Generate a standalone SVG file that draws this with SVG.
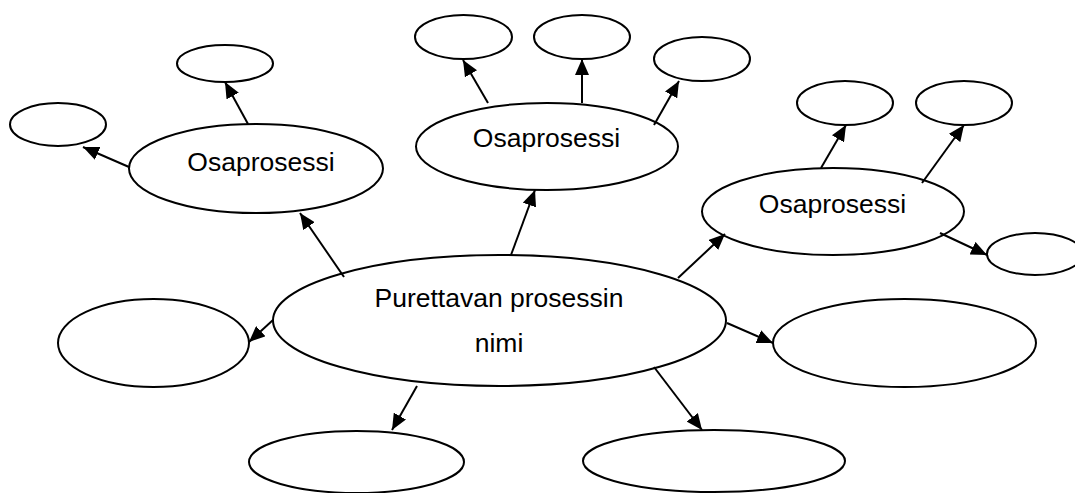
<svg xmlns="http://www.w3.org/2000/svg" width="1075" height="493" viewBox="0 0 1075 493">
  <style>
    .node ellipse { fill: #ffffff; stroke: #000000; stroke-width: 2; }
    .label { font-family: "Liberation Sans", Arial, sans-serif; font-size: 26.5px; fill: #000000; text-anchor: middle; }
    .edge { stroke: #000000; stroke-width: 2; fill: none; marker-end: url(#arrow); }
  </style>
  <defs>
    <marker id="arrow" viewBox="0 0 16 14" refX="16" refY="7" markerWidth="16" markerHeight="14" markerUnits="userSpaceOnUse" orient="auto">
      <path d="M0,0 L16,7 L0,14 Z" fill="#000000"/>
    </marker>
  </defs>
  <rect width="1075" height="493" fill="#ffffff"/>

  <!-- root process -->
  <g id="root" class="node">
    <ellipse cx="499.5" cy="320.5" rx="226.5" ry="65.5"/>
    <text class="label" x="499" y="306.5">Purettavan prosessin</text>
    <text class="label" x="499" y="351.5">nimi</text>
  </g>

  <!-- sub-processes -->
  <g id="sub-left" class="node">
    <ellipse cx="256" cy="168.5" rx="127" ry="44.5"/>
    <text class="label" x="261" y="170.5">Osaprosessi</text>
  </g>
  <g id="sub-middle" class="node">
    <ellipse cx="547" cy="146.5" rx="131" ry="43.5"/>
    <text class="label" x="546.5" y="146.5">Osaprosessi</text>
  </g>
  <g id="sub-right" class="node">
    <ellipse cx="833" cy="211.5" rx="131" ry="43.5"/>
    <text class="label" x="832.5" y="212.5">Osaprosessi</text>
  </g>

  <!-- children of the left sub-process -->
  <g id="left-a" class="node"><ellipse cx="58" cy="124.5" rx="48" ry="21.5"/></g>
  <g id="left-b" class="node"><ellipse cx="225" cy="63.5" rx="48" ry="18.5"/></g>

  <!-- children of the middle sub-process -->
  <g id="mid-a" class="node"><ellipse cx="463.5" cy="37" rx="48.5" ry="22"/></g>
  <g id="mid-b" class="node"><ellipse cx="582" cy="37" rx="48" ry="22"/></g>
  <g id="mid-c" class="node"><ellipse cx="702" cy="59" rx="48" ry="22"/></g>

  <!-- children of the right sub-process -->
  <g id="right-a" class="node"><ellipse cx="845" cy="103" rx="48" ry="22"/></g>
  <g id="right-b" class="node"><ellipse cx="964" cy="103" rx="48" ry="22"/></g>
  <g id="right-c" class="node"><ellipse cx="1035" cy="254" rx="48" ry="21"/></g>

  <!-- other steps around the root -->
  <g id="step-left" class="node"><ellipse cx="153.5" cy="343" rx="95.5" ry="44"/></g>
  <g id="step-right" class="node"><ellipse cx="904.5" cy="343" rx="131.5" ry="44"/></g>
  <g id="step-bottom-left" class="node"><ellipse cx="356.5" cy="462" rx="107.5" ry="31"/></g>
  <g id="step-bottom-right" class="node"><ellipse cx="714" cy="461" rx="131" ry="31"/></g>

  <!-- connectors -->
  <g id="connectors">
    <line class="edge" x1="344" y1="277" x2="300" y2="213"/>
    <line class="edge" x1="129" y1="167" x2="83" y2="147"/>
    <line class="edge" x1="248" y1="124" x2="225" y2="82"/>
    <line class="edge" x1="511" y1="255" x2="535" y2="190"/>
    <line class="edge" x1="488" y1="103" x2="463" y2="60"/>
    <line class="edge" x1="582" y1="103" x2="582" y2="59"/>
    <line class="edge" x1="654" y1="125" x2="679" y2="81"/>
    <line class="edge" x1="678" y1="278" x2="725" y2="234"/>
    <line class="edge" x1="821" y1="168" x2="846" y2="125"/>
    <line class="edge" x1="922" y1="183" x2="964" y2="125"/>
    <line class="edge" x1="940" y1="233" x2="987" y2="255"/>
    <line class="edge" x1="273" y1="320" x2="249" y2="342"/>
    <line class="edge" x1="417" y1="386" x2="392" y2="430"/>
    <line class="edge" x1="654" y1="367" x2="702" y2="430"/>
    <line class="edge" x1="727" y1="323" x2="773" y2="343"/>
  </g>
</svg>
